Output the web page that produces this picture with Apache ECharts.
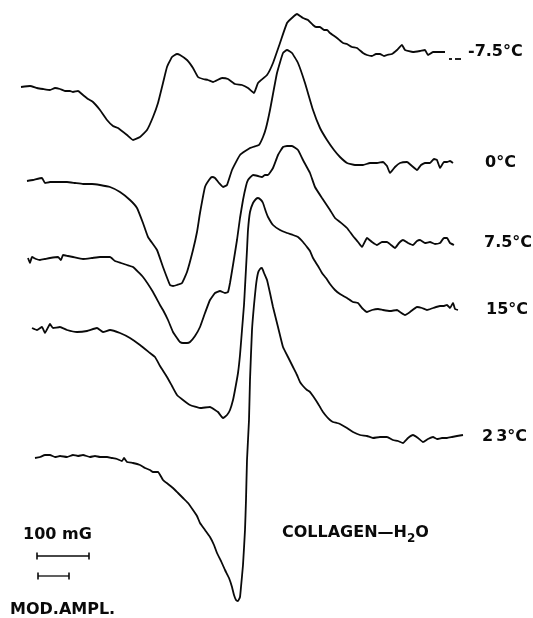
<!DOCTYPE html>
<html>
<head>
<meta charset="utf-8">
<script src="https://cdn.jsdelivr.net/npm/echarts@6/dist/echarts.min.js"></script>
<style>html,body{margin:0;padding:0;background:#fff}#c{width:533px;height:618px}</style>
</head>
<body>
<div id="c"></div>
<script>
// Traces: [field position, signal position] in figure units
const traceM75 = [[21,87],[30,86],[37,88],[43,89],[50,90],[55,88],[60,89],[65,91],[70,91],[73,92],[78,91],[83,95],[88,99],[93,102],[100,110],[107,120],[113,126],[118,128],[127,135],[133,140],[140,137],[147,130],[153,117],[158,103],[163,83],[167,67],[172,57],[177,54],[180,55],[187,60],[193,68],[198,77],[203,79],[208,80],[213,82],[222,78],[228,79],[235,84],[242,85],[248,88],[254,93],[258,83],[267,75],[273,63],[280,43],[287,23],[293,17],[297,14],[303,18],[308,20],[313,25],[316,27],[320,27],[324,30],[327,30],[330,33],[337,38],[343,43],[347,44],[352,47],[357,48],[363,53],[367,55],[372,56],[376,54],[380,54],[384,56],[387,55],[392,54],[397,50],[402,45],[405,50],[413,52],[420,51],[425,50],[428,55],[433,52],[445,52]];
const traceM75DashA = [[449,59],[452,59]];
const traceM75DashB = [[455,59],[461,59]];
const trace0 = [[27,181],[33,180],[42,178],[45,183],[50,182],[58,182],[67,182],[75,183],[83,184],[92,184],[100,185],[110,187],[120,192],[130,200],[137,208],[143,223],[148,237],[157,250],[163,267],[170,285],[173,286],[177,285],[182,283],[187,272],[193,250],[197,232],[200,213],[205,187],[209,180],[212,177],[215,178],[219,183],[223,187],[227,185],[232,170],[240,155],[250,148],[256,146],[259,145],[263,137],[266,128],[270,110],[277,73],[283,53],[287,50],[292,53],[298,63],[305,83],[313,110],[320,128],[327,140],[334,150],[340,157],[347,163],[355,165],[363,165],[370,163],[377,163],[383,162],[387,166],[390,173],[395,167],[400,163],[407,162],[412,166],[417,170],[421,165],[425,163],[430,163],[434,159],[437,160],[440,168],[444,162],[447,162],[450,161],[453,163]];
const trace75 = [[28,258],[30,263],[32,257],[36,259],[40,260],[45,259],[50,258],[58,257],[61,260],[63,255],[68,256],[73,257],[83,259],[92,258],[100,257],[110,257],[115,261],[121,263],[127,265],[133,267],[143,277],[153,292],[160,305],[163,310],[168,320],[173,332],[177,338],[180,342],[183,343],[187,343],[190,342],[195,336],[200,327],[205,313],[210,300],[215,293],[220,291],[225,293],[228,292],[230,283],[233,265],[237,240],[240,218],[243,200],[246,186],[248,180],[253,175],[258,176],[262,177],[265,175],[268,175],[273,168],[278,155],[283,147],[287,146],[292,146],[298,150],[303,160],[310,173],[315,187],[322,198],[330,210],[335,218],[340,222],[347,228],[353,236],[358,242],[362,247],[367,238],[372,242],[377,245],[382,242],[387,242],[391,245],[395,248],[399,243],[403,240],[408,243],[413,245],[417,241],[420,240],[425,243],[430,242],[435,244],[440,243],[444,238],[447,238],[450,243],[454,245]];
const trace15 = [[32,328],[37,330],[42,327],[45,333],[50,324],[53,328],[60,327],[67,330],[77,332],[87,331],[97,328],[103,332],[110,330],[120,333],[130,338],[140,345],[150,353],[155,357],[160,366],[167,377],[172,386],[177,395],[183,400],[190,405],[200,408],[210,407],[215,410],[218,412],[223,418],[227,415],[230,410],[233,400],[235,390],[238,373],[240,355],[242,330],[244,305],[245,287],[247,250],[248,230],[250,212],[253,203],[256,199],[258,198],[261,200],[263,203],[266,212],[268,217],[273,225],[280,230],[287,233],[293,235],[298,237],[303,242],[307,247],[310,251],[313,258],[318,266],[322,273],[326,278],[330,284],[335,290],[340,294],[347,298],[353,302],[358,303],[362,308],[367,312],[372,310],[378,309],[383,310],[390,311],[397,310],[400,312],[405,315],[410,312],[417,307],[422,308],[427,310],[433,308],[440,306],[444,306],[447,305],[450,308],[453,303],[455,309],[458,310]];
const trace23 = [[35,458],[40,457],[45,455],[50,455],[55,457],[60,456],[67,457],[73,455],[78,456],[83,455],[90,457],[95,456],[100,457],[107,457],[112,458],[117,459],[122,461],[124,458],[127,462],[133,463],[140,465],[145,468],[150,470],[153,472],[158,472],[163,480],[168,484],[173,488],[178,493],[183,498],[188,503],[193,510],[197,516],[200,523],[205,530],[210,537],[214,545],[217,553],[221,561],[225,570],[229,578],[232,587],[234,595],[236,600],[238,601],[240,597],[241,587],[243,565],[245,530],[246,500],[247,460],[249,420],[250,380],[252,330],[254,305],[256,285],[258,273],[260,269],[262,268],[264,273],[267,280],[270,293],[273,307],[278,327],[283,347],[288,357],[293,367],[297,375],[300,382],[303,386],[307,390],[310,392],[313,396],[317,402],[320,407],[323,412],[327,417],[330,420],[333,422],[337,423],[340,424],[347,428],[353,432],[360,435],[367,436],[373,438],[380,437],[387,437],[393,440],[398,441],[403,443],[408,438],[413,435],[418,438],[423,442],[428,439],[433,437],[437,439],[442,438],[447,438],[452,437],[457,436],[463,435]];
const scaleBar100 = [[37,556],[89,556]];
const scaleBarMod = [[38,576],[69,576]];
const tempLabels = ['-7.5°C','0°C','7.5°C','15°C','23°C'];

const chart = echarts.init(document.getElementById('c'));
const ink = '#0a0a0a';
function trace(data){
  return {type:'line', data:data, showSymbol:false, symbol:'none', smooth:0.12,
    lineStyle:{color:ink, width:1.8}, silent:true, animation:false};
}
function bar(data){
  return {type:'line', data:data, symbol:'rect', symbolSize:[1.6,7], showSymbol:true,
    itemStyle:{color:ink}, lineStyle:{color:ink, width:1.3}, silent:true, animation:false};
}
const F = '"DejaVu Sans", sans-serif';
function txt(x, y, t, extra){
  return Object.assign({type:'text', x:x, y:y, style:{text:t, font:'bold 16px '+F, fill:ink, textVerticalAlign:'middle'}}, extra||{});
}
chart.setOption({
  animation:false,
  grid:{left:0,right:0,top:0,bottom:0},
  xAxis:{type:'value', min:0, max:533, show:false},
  yAxis:{type:'value', min:0, max:618, inverse:true, show:false},
  series:[trace(traceM75), trace(traceM75DashA), trace(traceM75DashB), trace(trace0), trace(trace75), trace(trace15), trace(trace23), bar(scaleBar100), bar(scaleBarMod)],
  graphic:[
    txt(468, 52, tempLabels[0]),
    txt(485, 163, tempLabels[1]),
    txt(484, 243, tempLabels[2]),
    txt(486, 310, tempLabels[3]),
    {type:'text', x:482, y:437, style:{text:'{a|2}{b|3°C}', fill:ink, verticalAlign:'middle',
      rich:{a:{font:'bold 16px '+F, fill:ink, padding:[0,3,0,0]}, b:{font:'bold 16px '+F, fill:ink}}}},
    txt(23, 535, '100 mG'),
    txt(10, 610, 'MOD.AMPL.'),
    {type:'text', x:282, y:533, style:{text:'{a|COLLAGEN—H}{s|2}{a|O}', fill:ink, verticalAlign:'middle',
      rich:{a:{font:'bold 16px '+F, fill:ink, lineHeight:24, verticalAlign:'middle'}, s:{font:'bold 12px '+F, fill:ink, lineHeight:24, verticalAlign:'bottom'}}}}
  ]
});
</script>
</body>
</html>
